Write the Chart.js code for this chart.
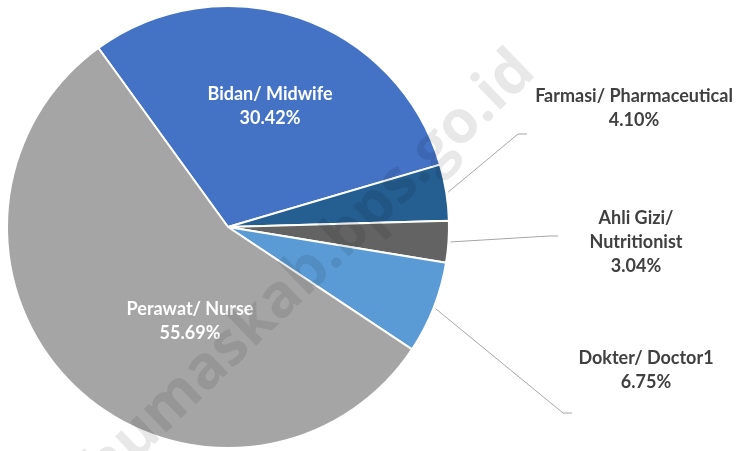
<!DOCTYPE html>
<html>
<head>
<meta charset="utf-8">
<script src="https://cdn.jsdelivr.net/npm/chart.js@4.4.0/dist/chart.umd.min.js"></script>
<style>
  html, body { margin: 0; padding: 0; background: #ffffff; }
  #wrap { width: 739px; height: 451px; position: relative; }
</style>
</head>
<body>
<div id="wrap"><canvas id="pieChart"></canvas></div>
<script>
// DATA
let labels = [
    ['Bidan/ Midwife'],
    ['Farmasi/ Pharmaceutical'],
    ['Ahli Gizi/', 'Nutritionist'],
    ['Dokter/ Doctor1'],
    ['Perawat/ Nurse']
];
let shares = [30.42, 4.10, 3.04, 6.75, 55.69];
let sliceColors = ['#4472C4', '#255E91', '#636363', '#5B9BD5', '#A5A5A5'];

// where each data label sits (centre of the text block) and whether it is inside the slice
let labelSpots = [
    { x: 270, y: 106, inside: true },
    { x: 634, y: 108, inside: false, elbow: [518, 134], end: [527, 134] },
    { x: 636, y: 242, inside: false, elbow: [549, 236], end: [558, 236] },
    { x: 646, y: 370, inside: false, elbow: [563, 413], end: [572, 413] },
    { x: 190, y: 321, inside: true }
];

let labelFont = 'bold 18px Lato, "Open Sans", sans-serif';
let lineGap = 24;

// data labels + leader lines
let pieLabels = {
    id: 'pieLabels',
    afterDatasetsDraw(chart) {
        let ctx = chart.ctx;
        let arcs = chart.getDatasetMeta(0).data;
        ctx.save();
        ctx.font = labelFont;
        ctx.textAlign = 'center';
        ctx.textBaseline = 'middle';
        arcs.forEach((arc, i) => {
            let spot = labelSpots[i];
            let lines = labels[i].concat([shares[i].toFixed(2) + '%']);
            if (!spot.inside) {
                let mid = (arc.startAngle + arc.endAngle) / 2;
                let r = arc.outerRadius + 2;
                ctx.beginPath();
                ctx.strokeStyle = '#A6A6A6';
                ctx.lineWidth = 1;
                ctx.moveTo(arc.x + Math.cos(mid) * r, arc.y + Math.sin(mid) * r);
                ctx.lineTo(spot.elbow[0], spot.elbow[1]);
                ctx.lineTo(spot.end[0], spot.end[1]);
                ctx.stroke();
            }
            ctx.fillStyle = spot.inside ? '#ffffff' : '#404040';
            let top = spot.y - (lines.length - 1) * lineGap / 2;
            lines.forEach((t, k) => ctx.fillText(t, spot.x, top + k * lineGap));
        });
        ctx.restore();
    },
    afterDraw(chart) {
        // site watermark
        let ctx = chart.ctx;
        ctx.save();
        ctx.translate(310, 270);
        ctx.rotate(-44 * Math.PI / 180);
        ctx.font = 'bold 60px "Open Sans", sans-serif';
        ctx.textAlign = 'center';
        ctx.textBaseline = 'middle';
        ctx.fillStyle = 'rgba(0,0,0,0.09)';
        ctx.fillText('humaskab.bps.go.id', 0, 0);
        ctx.restore();
    }
};

let pieChart = new Chart(document.querySelector('#pieChart'), {
    type: 'pie',
    data: {
        labels: labels,
        datasets: [{
            data: shares,
            backgroundColor: sliceColors,
            borderColor: '#ffffff',
            borderWidth: 2
        }]
    },
    options: {
        responsive: true,
        maintainAspectRatio: false,
        animation: false,
        rotation: -35.9,
        layout: {
            padding: { left: 6, top: 5, right: 289, bottom: 2 }
        },
        plugins: {
            legend: { display: false },
            tooltip: { enabled: false }
        }
    },
    plugins: [pieLabels]
});
</script>
</body>
</html>
